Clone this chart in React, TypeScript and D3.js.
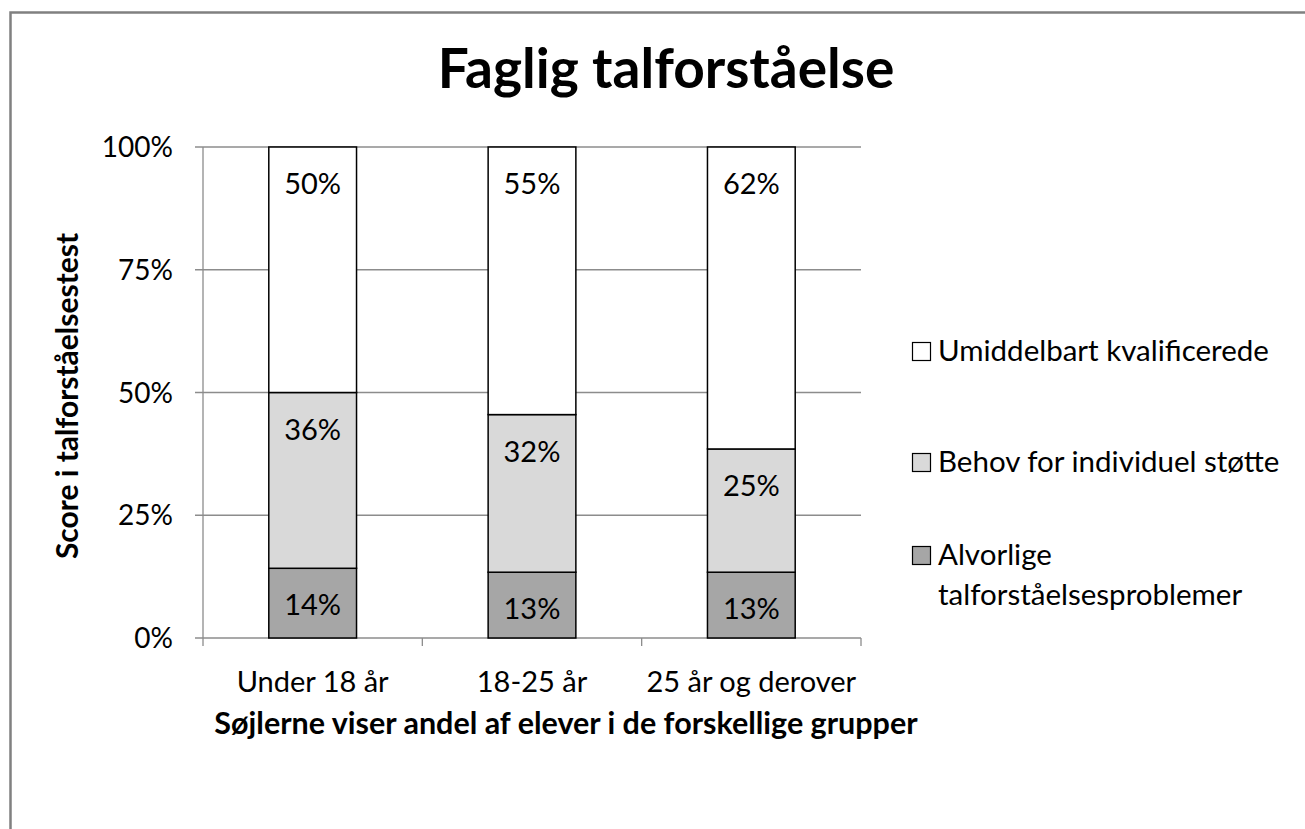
import React from "react";
import * as d3 from "d3";

const title = "Faglig talforståelse";
const categories = ["Under 18 år", "18-25 år", "25 år og derover"];
const seriesNames = [
  "Alvorlige talforståelsesproblemer",
  "Behov for individuel støtte",
  "Umiddelbart kvalificerede",
];
const alvorlige = [14.2, 13.4, 13.4];
const behov = [35.8, 32.1, 25.1];
const umiddelbart = [50.0, 54.5, 61.5];
const yTicks = [0, 25, 50, 75, 100];
const yTitle = "Score i talforståelsestest";
const xTitle = "Søjlerne viser andel af elever i de forskellige grupper";
const colors = ["#a6a6a6", "#d9d9d9", "#ffffff"];

const W = 1305;
const H = 829;
const FONT = "Lato, 'Open Sans', sans-serif";

export default function App() {
  const x = d3.scaleBand<string>().domain(categories).range([203, 861]).paddingInner(0.6).paddingOuter(0.3);
  const band = d3.scaleBand<string>().domain(categories).range([203, 861]);
  const y = d3.scaleLinear().domain([0, 100]).range([638, 147]);

  const rows = categories.map((c, i) => ({
    cat: c,
    a: alvorlige[i],
    b: behov[i],
    u: umiddelbart[i],
  }));
  const stack = d3.stack<any>().keys(["a", "b", "u"]);
  const series = stack(rows);

  const legendItems = [
    { name: seriesNames[2], color: colors[2], lines: ["Umiddelbart kvalificerede"], base: 361 },
    { name: seriesNames[1], color: colors[1], lines: ["Behov for individuel støtte"], base: 472 },
    { name: seriesNames[0], color: colors[0], lines: ["Alvorlige", "talforståelsesproblemer"], base: 565 },
  ];

  return (
    <svg
      width={W}
      height={H}
      style={{ position: "absolute", left: 0, top: 0, background: "#fff" }}
      fontFamily={FONT}
    >
      <rect x={0} y={0} width={W} height={H} fill="#fff" />
      <rect x={10.5} y={12.5} width={W + 20} height={H + 20} fill="none" stroke="#808080" strokeWidth={2.5} />
      <text x={666} y={88} textAnchor="middle" fontSize={55} fontWeight="bold" fill="#000">
        {title}
      </text>

      {/* gridlines */}
      {yTicks.map((t) => (
        <g key={t}>
          <line x1={195} x2={861} y1={y(t)} y2={y(t)} stroke="#8c8c8c" strokeWidth={1.3} />
          <text x={173} y={y(t) + 10} textAnchor="end" fontSize={28} fill="#000">
            {t}%
          </text>
        </g>
      ))}
      {/* y axis */}
      <line x1={203} x2={203} y1={147} y2={638} stroke="#8c8c8c" strokeWidth={1.3} />
      {/* category ticks */}
      {[...categories.map((c) => band(c) as number), 861].map((v, i) => (
        <line key={i} x1={v} x2={v} y1={638} y2={646} stroke="#8c8c8c" strokeWidth={1.3} />
      ))}

      {/* bars */}
      {series.map((s, si) => (
        <g key={si}>
          {s.map((d, i) => (
            <g key={i}>
              <rect
                x={x(categories[i])}
                width={x.bandwidth()}
                y={y(d[1])}
                height={y(d[0]) - y(d[1])}
                fill={colors[si]}
                stroke="#000"
                strokeWidth={1.5}
              />
              <text
                x={(x(categories[i]) as number) + x.bandwidth() / 2}
                y={y(d[1]) + 47}
                textAnchor="middle"
                fontSize={29}
                fill="#000"
              >
                {Math.round(d[1] - d[0])}%
              </text>
            </g>
          ))}
        </g>
      ))}

      {/* category labels */}
      {categories.map((c) => (
        <text
          key={c}
          x={(band(c) as number) + band.bandwidth() / 2}
          y={692}
          textAnchor="middle"
          fontSize={29}
          fill="#000"
        >
          {c}
        </text>
      ))}

      <text x={566} y={734} textAnchor="middle" fontSize={30.5} fontWeight="bold" fill="#000">
        {xTitle}
      </text>
      <text
        transform={`translate(78,396) rotate(-90)`}
        textAnchor="middle"
        fontSize={30}
        fontWeight="bold"
        fill="#000"
      >
        {yTitle}
      </text>

      {/* legend */}
      {legendItems.map((it) => (
        <g key={it.name}>
          <rect x={912.5} y={it.base - 18.5} width={18} height={18} fill={it.color} stroke="#000" strokeWidth={1.2} />
          {it.lines.map((ln, li) => (
            <text key={li} x={938} y={it.base + li * 40} fontSize={29.5} fill="#000">
              {ln}
            </text>
          ))}
        </g>
      ))}
    </svg>
  );
}
